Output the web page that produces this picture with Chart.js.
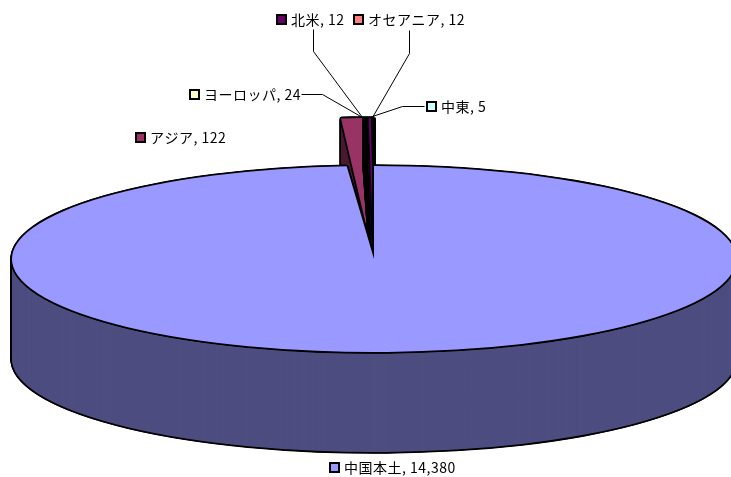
<!DOCTYPE html>
<html>
<head>
<meta charset="utf-8">
<style>
  html, body { margin: 0; padding: 0; background: #fff; }
  #wrap { position: relative; width: 731px; height: 477px; overflow: hidden; }
  #pie { position: absolute; left: 0; top: 0; }
</style>
<script src="https://cdn.jsdelivr.net/npm/chart.js@4"></script>
</head>
<body>
<div id="wrap"><canvas id="pie" width="748" height="748"></canvas></div>
<script>
const categories = ['中国本土', 'アジア', 'ヨーロッパ', '北米', 'オセアニア', '中東'];
const values = [14380, 122, 24, 12, 12, 5];
const topColors = ['#9999FF', '#993366', '#FFFFCC', '#660066', '#FF8080', '#CCFFFF'];
const sideColors = ['#4D4D80', '#4D1A33', '#808066', '#330033', '#804040', '#668080'];

// label layout: key box left/top, leader line points
const labelBoxes = [[329, 462], [135, 132], [189, 89], [276, 14], [353, 14], [426, 101]];
const leaders = [
  null,
  null,
  [[301, 94], [322, 94], [362, 117]],
  [[313, 29], [313, 51], [362, 117]],
  [[409, 30], [409, 53], [372, 117]],
  [[424, 106], [402, 106], [372, 116]]
];

const CENTER_Y = 259;      // ellipse centre on screen
const MAIN_SQUASH = 93 / 362;
const MAIN_DEPTH = 100;
const SMALL_RADIUS = 437;  // the small slices stick out past the main ellipse
const SMALL_SQUASH = 141 / 437;
const SMALL_DEPTH = 47;
const EDGE = 1.8;
const EDGE_D = 1.3;
const EDGE_ONLY = [2, 4, 5]; // so thin that the edge swallows the fill

function paintArc(ctx, arc, color, radius, squash, dx, dy) {
  const savedOptions = arc.options;
  const savedRadius = arc.outerRadius;
  arc.options = { ...savedOptions, backgroundColor: color, borderWidth: 0 };
  arc.outerRadius = radius;
  ctx.save();
  ctx.translate(dx, CENTER_Y + dy);
  ctx.scale(1, squash);
  ctx.translate(0, -arc.y);
  arc.draw(ctx);
  ctx.restore();
  arc.options = savedOptions;
  arc.outerRadius = savedRadius;
}

// black edge: same arc nudged around, then the fill goes on top
function paintOutline(ctx, arc, radius, squash, dy) {
  [[-EDGE, 0], [EDGE, 0], [0, -EDGE], [0, EDGE],
   [-EDGE_D, -EDGE_D], [EDGE_D, -EDGE_D], [-EDGE_D, EDGE_D], [EDGE_D, EDGE_D]].forEach(([x, y]) => {
    paintArc(ctx, arc, '#000', radius, squash, x, dy + y);
  });
}

function paintExtruded(ctx, arc, index, radius, squash, depth) {
  const thin = EDGE_ONLY.includes(index);
  for (let d = depth; d > 0; d--) paintOutline(ctx, arc, radius, squash, d);
  if (!thin) {
    for (let d = depth; d > 0; d--) paintArc(ctx, arc, sideColors[index], radius, squash, 0, d);
  }
  paintOutline(ctx, arc, radius, squash, 0);
  if (!thin) paintArc(ctx, arc, topColors[index], radius, squash, 0, 0);
}

const pie3d = {
  id: 'pie3d',
  beforeDatasetsDraw(chart) {
    const ctx = chart.ctx;
    const arcs = chart.getDatasetMeta(0).data;
    // small slices first, the purple one last so it still shows
    [1, 2, 4, 5, 3].forEach((i) => paintExtruded(ctx, arcs[i], i, SMALL_RADIUS, SMALL_SQUASH, SMALL_DEPTH));
    paintExtruded(ctx, arcs[0], 0, arcs[0].outerRadius, MAIN_SQUASH, MAIN_DEPTH);
    return false;
  },
  afterDraw(chart) {
    const ctx = chart.ctx;
    ctx.save();
    ctx.strokeStyle = '#000';
    ctx.lineWidth = 1;
    leaders.forEach((pts) => {
      if (!pts) return;
      ctx.beginPath();
      pts.forEach(([x, y], i) => (i ? ctx.lineTo(x + 0.5, y + 0.5) : ctx.moveTo(x + 0.5, y + 0.5)));
      ctx.stroke();
    });
    ctx.font = '14px "Noto Sans CJK JP"';
    ctx.letterSpacing = '0.5px';
    ctx.textBaseline = 'middle';
    categories.forEach((name, i) => {
      const [x, y] = labelBoxes[i];
      ctx.fillStyle = '#000';
      ctx.fillRect(x, y, 11, 11);
      ctx.fillStyle = topColors[i];
      ctx.fillRect(x + 2, y + 2, 7, 7);
      ctx.fillStyle = '#000';
      ctx.fillText(name + ', ' + values[i].toLocaleString('en-US'), x + 15, y + 5.5);
    });
    ctx.restore();
  }
};

new Chart(document.getElementById('pie'), {
  type: 'pie',
  data: {
    labels: categories,
    datasets: [{ data: values, backgroundColor: topColors, borderWidth: 0 }]
  },
  options: {
    responsive: false,
    animation: false,
    layout: { padding: 12 },
    plugins: { legend: { display: false }, tooltip: { enabled: false } }
  },
  plugins: [pie3d]
});
</script>
</body>
</html>
